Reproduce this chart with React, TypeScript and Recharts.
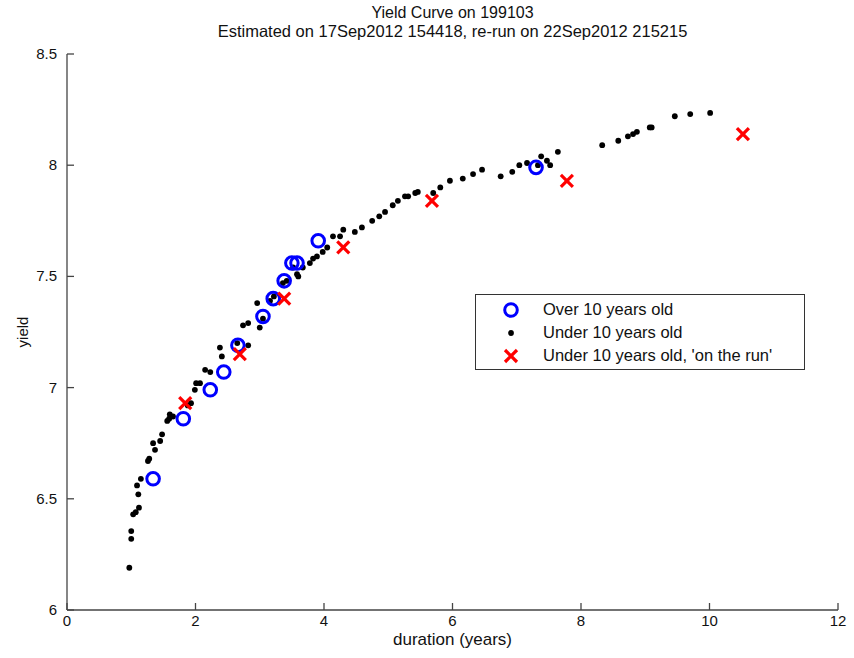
import {
  ScatterChart,
  Scatter,
  XAxis,
  YAxis,
  Legend,
} from 'recharts';

// Over 10 years old (blue rings)
const overDur = [1.34, 1.81, 2.23, 2.44, 2.66, 3.05, 3.21, 3.38, 3.5, 3.58, 3.91, 7.3];
const overYield = [6.59, 6.86, 6.99, 7.07, 7.19, 7.32, 7.4, 7.48, 7.56, 7.56, 7.66, 7.99];

// Under 10 years old (black dots)
const underDur = [
  0.97, 1.0, 1.0, 1.03, 1.07, 1.12, 1.11, 1.09, 1.15, 1.26, 1.28, 1.37, 1.34, 1.45, 1.48,
  1.56, 1.59, 1.6, 1.65, 1.88, 1.93, 1.99, 2.01, 2.07, 2.15, 2.23, 2.38, 2.41, 2.65, 2.82,
  2.74, 2.82, 2.96, 3.0, 3.05, 3.16, 3.22, 3.36, 3.42, 3.52, 3.58, 3.6, 3.67, 3.78, 3.83,
  3.89, 3.98, 4.05, 4.14, 4.25, 4.3, 4.48, 4.59, 4.75, 4.86, 4.95, 5.07, 5.15, 5.26, 5.31,
  5.42, 5.46, 5.7, 5.81, 5.96, 6.16, 6.32, 6.46, 6.75, 6.93, 7.04, 7.16, 7.33, 7.38, 7.47,
  7.52, 7.64, 8.33, 8.58, 8.73, 8.81, 8.87, 9.07, 9.1, 9.46, 9.7, 10.01,
];
const underYield = [
  6.19, 6.32, 6.355, 6.43, 6.44, 6.46, 6.52, 6.56, 6.59, 6.67, 6.68, 6.72, 6.75, 6.76, 6.79,
  6.85, 6.86, 6.88, 6.87, 6.92, 6.93, 6.99, 7.02, 7.02, 7.08, 7.07, 7.18, 7.14, 7.2, 7.19,
  7.28, 7.29, 7.38, 7.27, 7.31, 7.39, 7.41, 7.47, 7.48, 7.54, 7.51, 7.5, 7.54, 7.56, 7.58,
  7.59, 7.61, 7.63, 7.68, 7.68, 7.71, 7.7, 7.72, 7.75, 7.77, 7.79, 7.82, 7.84, 7.86, 7.86,
  7.875, 7.88, 7.875, 7.9, 7.93, 7.94, 7.96, 7.98, 7.95, 7.97, 8.0, 8.01, 8.0, 8.04, 8.02,
  8.0, 8.06, 8.09, 8.11, 8.13, 8.14, 8.15, 8.17, 8.17, 8.22, 8.23, 8.235,
];

// Under 10 years old, 'on the run' (red crosses)
const runDur = [1.84, 2.69, 3.38, 4.3, 5.68, 7.78, 10.52];
const runYield = [6.93, 7.15, 7.4, 7.63, 7.84, 7.93, 8.14];

const xTicks = [0, 2, 4, 6, 8, 10, 12];
const yTicks = [6, 6.5, 7, 7.5, 8, 8.5];

const zip = (xs: number[], ys: number[]) => xs.map((d, i) => ({ d, y: ys[i] }));

const FONT = '"Liberation Sans", Arial, Helvetica, sans-serif';
const AXIS = '#444';

const Ring = ({ cx, cy }: any) => (
  <circle cx={cx} cy={cy} r={6.3} fill="none" stroke="#0000ff" strokeWidth={3} />
);
const Dot = ({ cx, cy }: any) => <circle cx={cx} cy={cy} r={2.9} fill="#000" />;
const Cross = ({ cx, cy }: any) => (
  <g stroke="#ff0000" strokeWidth={3.2}>
    <line x1={cx - 6} y1={cy - 6} x2={cx + 6} y2={cy + 6} />
    <line x1={cx - 6} y1={cy + 6} x2={cx + 6} y2={cy - 6} />
  </g>
);

const XTick = ({ x, y, payload }: any) => (
  <g>
    <line x1={x} x2={x} y1={y - 4} y2={y - 11} stroke={AXIS} strokeWidth={1.3} />
    <text x={x} y={y + 12} textAnchor="middle" fontSize={15} fontFamily={FONT} fill="#111">
      {payload.value}
    </text>
  </g>
);

const YTick = ({ x, y, payload }: any) => (
  <g>
    <line x1={x + 10} x2={x + 17} y1={y} y2={y} stroke={AXIS} strokeWidth={1.3} />
    <text x={x} y={y + 5} textAnchor="end" fontSize={15} fontFamily={FONT} fill="#111">
      {payload.value}
    </text>
  </g>
);

const legendRows = [
  { name: 'Over 10 years old', Mark: Ring },
  { name: 'Under 10 years old', Mark: Dot },
  { name: "Under 10 years old, 'on the run'", Mark: Cross },
];

const LegendBox = () => (
  <div
    style={{
      width: 328,
      height: 74,
      border: '1px solid #333',
      background: '#fff',
      fontFamily: FONT,
      fontSize: 16.5,
      color: '#111',
      position: 'relative',
    }}
  >
    {legendRows.map((r, i) => (
      <div key={i} style={{ position: 'absolute', left: 0, top: 3 + i * 23, height: 23, width: '100%' }}>
        <svg width={50} height={23} style={{ position: 'absolute', left: 10, top: 0 }}>
          <r.Mark cx={25} cy={12} />
        </svg>
        <span style={{ position: 'absolute', left: 67, top: 2, whiteSpace: 'nowrap' }}>{r.name}</span>
      </div>
    ))}
  </div>
);

export default function App() {
  return (
    <div style={{ position: 'absolute', left: 0, top: 0, width: 854, height: 658, background: '#fff' }}>
      <div
        style={{
          position: 'absolute',
          left: 67,
          width: 771,
          top: 4,
          textAlign: 'center',
          fontFamily: FONT,
          fontSize: 16,
          lineHeight: '18px',
          color: '#111',
        }}
      >
        Yield Curve on 199103
        <br />
        <span style={{ fontSize: 16.5 }}>Estimated on 17Sep2012 154418, re-run on 22Sep2012 215215</span>
      </div>
      <div
        style={{
          position: 'absolute',
          left: 22,
          top: 332,
          transform: 'translate(-50%, -50%) rotate(-90deg)',
          fontFamily: FONT,
          fontSize: 15,
          color: '#111',
        }}
      >
        yield
      </div>
      <div
        style={{
          position: 'absolute',
          left: 67,
          width: 771,
          top: 630,
          textAlign: 'center',
          fontFamily: FONT,
          fontSize: 17,
          color: '#111',
        }}
      >
        duration (years)
      </div>
      <ScatterChart width={854} height={658} margin={{ top: 54, right: 16, bottom: 8, left: 7 }}>
        <XAxis
          type="number"
          dataKey="d"
          domain={[0, 12]}
          ticks={xTicks}
          tickSize={0}
          tickMargin={4}
          tick={<XTick />}
          height={40}
          stroke={AXIS}
          strokeWidth={1.3}
          interval={0}
        />
        <YAxis
          type="number"
          dataKey="y"
          domain={[6, 8.5]}
          ticks={yTicks}
          tickSize={0}
          tickMargin={10}
          tick={<YTick />}
          width={60}
          stroke={AXIS}
          strokeWidth={1.3}
          interval={0}
        />
        <Legend
          layout="horizontal"
          verticalAlign="middle"
          align="center"
          wrapperStyle={{ position: 'absolute', left: 475, top: 294, width: 'auto', height: 'auto' }}
          content={<LegendBox />}
        />
        <Scatter name="Under 10 years old" data={zip(underDur, underYield)} shape={<Dot />} isAnimationActive={false} />
        <Scatter name="Over 10 years old" data={zip(overDur, overYield)} shape={<Ring />} isAnimationActive={false} />
        <Scatter
          name="Under 10 years old, 'on the run'"
          data={zip(runDur, runYield)}
          shape={<Cross />}
          isAnimationActive={false}
        />
      </ScatterChart>
    </div>
  );
}
